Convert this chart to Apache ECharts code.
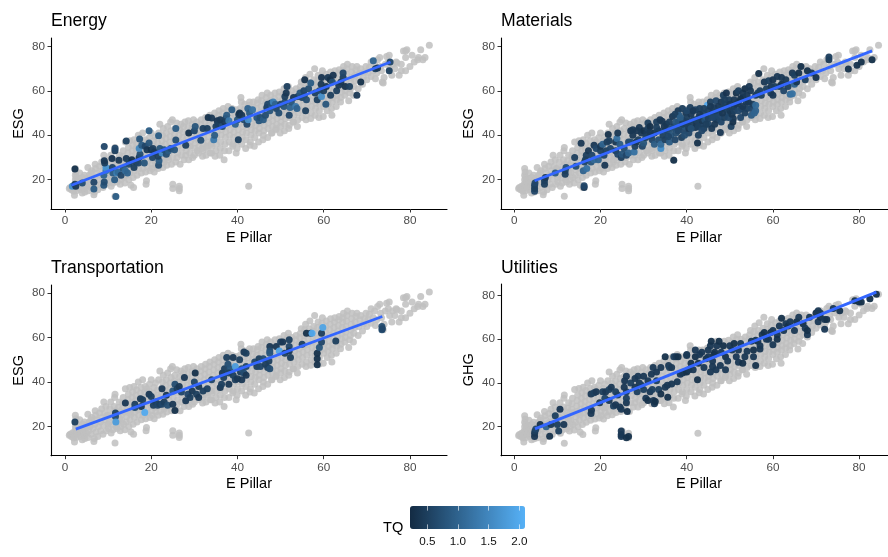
<!DOCTYPE html>
<html><head><meta charset="utf-8">
<style>html,body{margin:0;padding:0;background:#fff}#c{width:888px;height:557px}</style>
<script src="https://cdn.jsdelivr.net/npm/echarts@6/dist/echarts.min.js"></script></head>
<body><div id="c"></div>
<script>
const xTicks=[0,20,40,60,80], yTicks=[20,40,60,80], tqTicks=[0.5,1.0,1.5,2.0];
const tqRange=[0.218,2.093];
const panelTitles=['Energy','Materials','Transportation','Utilities'];
const yNames=['ESG','ESG','ESG','GHG'];
const fitEnergy=[[1.5,17.5],[75.5,73]], fitMaterials=[[4.7,19.5],[83,78]], fitTransport=[[2.5,18.8],[73.6,69.5]], fitUtilities=[[4.8,19],[84,81.5]];
const greyFlat=[
1,16,1.2,16.5,1.5,15.5,1.7,17,2,16,2,14.8,2.2,13,2.3,18,2.4,20,2.4,22,2.5,23.5,2.4,25,2.6,21,2.7,19,2.8,17.5,2.6,15,3,16.5,3.2,18.5,3.3,20.5,3.4,23,3.6,15.5,3.8,17,3.9,19,4,14,4.1,21,4.3,18,4.4,16,4.5,22,4.6,14.5,4.8,19.5,5,17,5.1,20.5,
5.3,25.5,5.4,15,5.5,18,5.6,22,5.8,20,6,23,6.1,16.5,6.2,24,6.5,19,6.7,13.2,6.8,14.5,6.9,21,7,27,7.1,25,7.2,17.5,7.4,23,7.6,15.5,7.8,20,8,26,8.2,22,8.3,18,8.5,28,8.6,24,8.8,16.5,8.9,20.5,9,31,9.2,26,9.3,23,9.5,29,9.6,18,9.8,25,10,21,
10.1,19,10.3,22,10.2,25,10.4,28,10.6,31,10.7,17,10.8,24,11.1,18.5,11.2,21,11.3,26,11.4,29,11.5,33,11.6,12.5,11.6,34.5,11.7,23,11.8,27,11.9,20,
12.1,19,12.2,22,12.3,25,12.4,28.5,12.6,31,12.7,23.5,12.8,18,12.9,26.5,13,20,13.1,23,13.2,25.5,13.3,28,13.4,30.5,13.5,33,13.6,21,13.8,26.5,13.9,18.5,
14,37,14.2,22,14.3,24.5,14.4,27,14.5,29.5,14.6,32,14.7,34.5,14.8,20,14.9,26,15,37.5,15.1,23,15.3,17.5,15.3,25.5,15.4,28,15.5,30.5,15.6,33,15.7,35.5,15.8,21,15.9,16.5,
16,38,16.1,24,16.2,26.5,16.3,29,16.4,31.5,16.5,34,16.6,36.5,16.7,22,16.9,27.5,17,40,17.1,25,17.2,27.5,17.3,30,17.4,32.5,17.5,35,17.6,37.5,17.7,23,17.9,28.5,
18,41,18.1,25,18.2,28,18.3,30.5,18.4,33,18.5,35.5,18.6,38,18.7,23.5,18.8,18,18.9,19.5,19,37,19.1,26,19.2,28.5,19.3,31,19.4,33.5,19.5,36,19.6,39,19.7,24,19.9,29.5,
20,41,20.1,27,20.2,25,20.3,30,20.4,32.5,20.5,35,20.6,37.5,20.7,23.5,20.8,28.5,21,39.5,21.1,26.5,21.2,29,21.3,31.5,21.4,34,21.5,36.5,21.6,25,21.7,41,21.8,33,22,45,
22.1,27,22.2,30,22.3,32.5,22.4,35,22.5,37.5,22.6,40,22.7,25.5,22.8,43,22.9,29,23,28,23.1,31,23.2,33.5,23.3,36,23.4,38.5,23.5,41,23.6,26.5,23.8,44,23.9,30,
24,29,24.1,32,24.2,34.5,24.3,37,24.4,39.5,24.5,46,24.6,42,24.7,27,24.9,47,25,30,25.1,33,25.2,35.5,25.3,38,25.4,40.5,25.5,43,25,16,25,18,25.7,28,25.9,45.5,
26,30,26.1,32,26.2,35,26.3,37.5,26.4,40,26.5,15,26.5,16,26.5,17,26.6,42.5,26.7,27,26.9,45,27,31,27.1,34,27.2,36.5,27.3,39,27.4,41.5,27.5,44,27.6,29,27.8,46,
28,31,28.1,33,28.2,36,28.3,38.5,28.4,41,28.5,43.5,28.6,46.5,28.7,29,28.9,35,29,32,29.1,35,29.2,37.5,29.3,40,29.4,42.5,29.5,45,29.6,30,29.8,47,
30,31,30.1,34,30.2,36.5,30.3,39,30.4,41.5,30.5,44,30.6,46,30.7,33,30.9,38,31,32,31.1,35,31.2,37.5,31.3,40,31.4,42.5,31.5,45,31.6,47,31.8,34,31.9,30.5,
32,33,32.1,36,32.2,38.5,32.3,41,32.4,43.5,32.5,46,32.6,48,32.7,31,32.9,35,33,34,33.1,37,33.2,39.5,33.3,42,33.4,44.5,33.5,47,33.6,49,33.7,32,33.9,36,
34,32,34.1,35,34.2,38,34.3,40.5,34.4,43,34.5,45.5,34.6,48,34.7,50,34.8,30.5,35,33,35.1,36,35.2,39,35.3,41.5,35.4,44,35.5,46.5,35.6,49,35.7,51,35.9,31,
36,34,36.1,37,36.2,40,36.3,42.5,36.4,45,36.5,47.5,36.6,50,36.7,52,36.9,29,37,33,37.1,36,37.2,39,37.3,41.5,37.4,44,37.5,46.5,37.6,49,37.7,51,37.8,53,
38,33,38.1,37,38.2,40,38.3,42.5,38.4,45,38.5,47.5,38.6,50,38.7,52,38.9,35,39,36,39.1,39,39.2,41.5,39.3,44,39.4,46.5,39.5,49,39.6,51.5,39.7,32,39.9,34,
40,37,40.1,40,40.2,42.5,40.3,45,40.4,47.5,40.5,50,40.6,52,40.8,57,40.9,55,41,36,41.1,39,41.2,41.5,41.3,44,41.4,46.5,41.5,49,41.6,51.5,41.7,54,41.9,34,
42,38,42.1,41,42.2,43.5,42.3,46,42.4,48.5,42.5,51,42.6,17,42.6,53.5,42.8,55,42.9,35.5,43,37,43.1,40,43.2,42.5,43.3,45,43.4,47.5,43.5,50,43.6,52.5,43.7,55,43.9,35,
44,39,44.1,42,44.2,44.5,44.3,47,44.4,49.5,44.5,52,44.6,54.5,44.8,56,44.9,37,45,41,45.1,43,45.2,45.5,45.3,48,45.4,50.5,45.5,53,45.6,55.5,45.7,58,45.9,38,
46,40,46.1,42,46.2,44.5,46.3,47,46.4,49.5,46.5,52,46.6,54.5,46.7,57,46.9,59,47,39,47.1,43,47.2,45.5,47.3,48,47.4,50.5,47.5,53,47.6,55.5,47.7,58,47.9,41,
48,41,48.1,44,48.2,46.5,48.3,49,48.4,51.5,48.5,54,48.6,56.5,48.7,59,48.9,42.5,49,43,49.1,45,49.2,47.5,49.3,50,49.4,52.5,49.5,55,49.6,57.5,49.7,59.5,49.9,41,
50,44,50.1,46,50.2,48.5,50.3,51,50.4,53.5,50.5,56,50.6,58.5,50.8,61,50.9,42,51,45,51.1,47.5,51.2,50,51.3,52.5,51.4,55,51.5,57.5,51.6,60,51.8,62,51.9,43,
52,44.5,52.1,48,52.2,50.5,52.3,53,52.4,55.5,52.5,58,52.6,60,52.9,46,53,46,53.1,49,53.2,51.5,53.3,54,53.4,56.5,53.5,59,53.6,61,53.9,44,
54,47,54.1,50,54.2,52.5,54.3,55,54.4,57.5,54.5,60,54.6,62,54.8,64,55,48,55.1,51,55.2,53.5,55.3,56,55.4,58.5,55.5,61,55.6,63.5,55.8,66,55.9,47,
56,49,56.1,52,56.2,54.5,56.3,57,56.4,59.5,56.5,62,56.6,64,56.8,67.5,57,47.5,57.1,50,57.2,53,57.3,55.5,57.4,58,57.5,60.5,57.6,63,57.7,65,57.9,70,
58,49,58.1,52,58.2,54.5,58.3,57,58.4,59.5,58.5,62,58.6,64.5,58.7,67,58.9,48,59,51,59.1,54,59.2,56.5,59.3,59,59.4,61.5,59.5,64,59.6,66.5,59.7,69,59.9,48.5,
60,53,60.1,55,60.2,57.5,60.3,60,60.4,62.5,60.5,65,60.6,67.5,60.8,51,61,54,61.1,56,61.2,58.5,61.3,61,61.4,63.5,61.5,66,61.6,68.5,61.8,52,61.9,49,
62,55,62.1,57,62.2,59.5,62.3,62,62.4,64.5,62.5,67,62.6,69,62.9,53,63,56,63.1,58,63.2,60.5,63.3,63,63.4,65.5,63.5,68,63.6,69.5,63.9,55,
64,57,64.1,59.5,64.2,62,64.3,64.5,64.4,67,64.5,69,64.6,71,64.9,58,65,60,65.1,62.5,65.2,65,65.3,67.5,65.4,70,65.5,72,65.8,55.5,66,59,
66.2,61,66.3,63.5,66.4,66,66.5,68.5,66.6,71,66.9,58,67,62,67.2,64.5,67.3,67,67.5,69.5,67.7,71,68,61,68.2,65,68.4,68,68.6,70,69,63,69.2,66,69.5,68.5,69.8,71,
70,65,70.3,68,70.6,70.5,71,66.5,71,73,71.5,69,71.8,72,72,65.5,72.3,68,72.5,74,73,75,73.2,71,73.4,69,73.6,64,73.8,63.5,74,66,74.3,72,74.6,75.5,75.2,76,75,73,75.3,70,75.8,67,
76,72,76.5,70,76.8,73,77,72.5,77.5,67,78,69,78,72,78.5,78,79,75,79,69,79,78,79.3,78.5,80.5,76,80,71,81,73,81.8,74,82,75,83,74,82.5,78.5,83.5,75,84.5,80.5
];
const energyFlat=[
1.7,17,1.6,2.3,24.8,.3,2.5,17,.4,2.3,18,.5,4,18.5,.7,6.7,18.8,.6,6.7,15.8,.9,9,17.5,.8,9.1,19,.7,9,22,1,9.5,24,1.3,9.5,25.5,1.7,9.2,27.5,.5,9.1,28.5,.4,9.1,34.9,.6,
11.1,23,.9,11,25.5,.6,10.9,29.5,.35,11.6,33,.5,11.6,34.1,.6,11.8,12.4,.9,11.5,20,.9,12,23,1.4,12.3,23.5,1.1,12.5,28.7,.4,13,22,.6,13.5,25,.8,14,24,1.1,14.2,29.5,.4,14.2,37.4,.5,
14.5,23,1,14.8,27,.7,15,28,.6,15.5,29,.3,16,25.5,.5,16.5,28,.5,17,27.5,.6,17.2,30,.4,17.4,31.5,.7,17.3,38.3,.8,17.2,34,1.5,17.8,35.5,.9,18.4,27.5,.8,18.6,35,.6,19,33.5,.4,19.5,36.5,.8,19.5,42,.9,
20,33.5,.3,20.4,34,.5,20.3,30,.6,20.8,32.5,.4,21.7,26.5,.7,21.8,28.5,.9,21.6,30.5,.5,21.7,39.8,.9,22,34,.8,22.5,32,1.5,23,33.5,.8,23.5,31.5,.7,24,33,.9,24.5,34,.7,25.4,33.5,.8,25.7,37.9,.7,25.7,43.1,.9,
28,35.5,.5,28.7,41,.3,30,42,.6,30.2,43.9,.8,31.5,37.8,.7,32,43,.5,33,43,.5,33.2,48,.3,34,47.8,.4,34.5,38,1.3,34.7,40,.9,35,44,.5,35.3,46.5,.35,35.5,45,.5,36,47,.4,36.5,44,.7,37,46,.4,37.3,47.5,.5,37.5,49,.9,
38,46.5,1.3,38.7,51.5,.9,39.5,45,1,40,47,.8,40.2,38,.5,40.3,49.3,.4,40.5,50,.3,41,49,.4,41.5,47,.7,42.2,45,.6,42.4,52,1,42.5,47,1.6,42.8,50,.9,43.5,51.5,1.2,44.5,48,.8,45,46.5,.8,45.3,48,.7,
46,47,.9,46.5,49,.7,46.8,52.5,.5,47,54,.6,47.5,51,.8,48,53.5,1,47.8,54.5,.7,48.3,55,1.4,48.8,54,1,49,52,.6,49.6,50,.7,50,54,.6,50.8,53,.8,51,55,.7,51,57.5,.5,51.3,59,.4,51.5,62,.5,
52,49,.6,52.2,52.5,1,52.5,55,.8,53,57,.4,53.5,53,1.3,53.8,52,1,54,57.5,.5,54.5,59,.8,55,57,.6,55.5,58,.7,55.6,65,.3,55.4,60,.6,55.8,51,.5,56,56,.7,56.5,61,.7,57,63.5,.9,
58,59,.5,58.5,56,.5,59,60,.6,59.5,66,.35,59.4,63,.4,59.5,57.5,1.6,60,60,.5,60.5,54,.8,60.6,62,.4,61,66,.4,61.5,65,.3,61.6,58,.5,62,64,.7,62.2,67,.35,63,60,.5,63.5,62.5,.4,64,64,.4,64.5,66,.5,64.5,68,.6,65,62,.3,
66,62,.5,67.7,58,.4,68.6,64,.3,71.5,73.5,1,72,70,.5,72.5,70.3,.4,75.2,69,.5,75.4,73,.6
];
const materialsFlat=[
4.7,14.8,.6,4.7,16,.5,4.7,17.5,.5,4.8,18.5,.6,7,18,.5,7,19.5,.5,7.2,21,.4,9.5,23,.9,11.8,22.5,.5,11.8,24,.5,12,25.5,.7,14,30,.5,14.3,26,.7,15.5,36.4,.4,16.2,16.5,.4,16.2,17.3,.6,16,24,1,
16.8,25,1.2,16.3,28,.6,16.5,29,.5,16.7,31,.5,17.2,33,.4,18,31,.6,17.8,28,.8,18.5,35.5,.4,18.5,29,1.1,19,34,.6,19.5,29,1,20,33,.5,20,35,.4,20.5,36,1,20.8,31,.6,21,26.5,.4,21.5,37,.5,21.3,33,.5,21.8,40.3,.3,
22,37.5,.5,22.3,34,.6,23.5,33,.5,23.5,37,.4,23.8,38.5,1.2,24,41,.4,24,31.5,.6,24.5,36,.9,24.8,30,.5,25,31.5,.8,25.5,34,.7,26,31,.6,26.5,37,.6,26.5,32,1,27,37,.7,27,42,.35,27.5,42.5,.4,27.8,32.5,1.2,
28,35,.5,28.3,37,.4,28.8,38,.5,29,43.5,.4,29.5,41,.4,29.7,35,.6,30,42,.3,30,36.5,.8,30.7,41,.4,31,45.5,.5,31,43,.5,31.5,44,.3,31.8,40,.5,32,38,.6,32.5,36,.9,32.5,41,.4,33,46,.5,33.5,38,.7,33.5,42,.4,
34,34,1.6,34,36,1.1,34.3,46.3,.4,34.5,40,.5,34.8,42,.7,35,38,.5,35.3,45,.4,35.5,42,.6,36,46,.5,36,37,.9,36.3,40,.8,36.7,48.5,.4,37,28.8,.3,37,44,.5,37.3,38,.6,37.5,41,.7,37.8,42.5,.9,
38,46,.5,38,51,.4,38.2,49,.9,38.5,44,.7,38.8,39,.5,39,47,.6,39,52,.5,39.3,42,.6,39.6,44,.8,39.8,50,.4,40,48,.5,40,46,.5,40.5,41,.6,40.5,43,.4,40.8,52.5,.5,41,49.5,.4,41.2,45,.5,41.5,47,.5,
42,43.5,.4,42,51.5,.6,42.3,45.5,.4,42.5,36.5,.3,42.7,40,.5,42.8,48,.6,43,52,.5,43.3,45,.6,43.5,46.5,.4,43.8,50,.5,44,43,.5,44.2,47,.7,44.5,48.5,.9,44.8,53.5,2,45,51,.5,45,45,.6,45.5,55,.5,
45.8,43,.4,46,50,.4,46.3,52.5,.5,46.5,48,.6,46.8,55.5,.6,47,47,.5,47.3,53,.4,47.5,50,.7,47.8,41.3,.4,48,46,.6,48,55,.4,48.2,52,.5,48.5,58,.5,48.7,48,.5,49,54,.5,49.2,59,.35,49.5,50,.6,49.8,56,.5,
50,51,.4,50.3,44,.5,50.7,46,.3,50.8,47.5,.4,51,53,.5,51,56,.4,51.5,59,.3,52,55,.4,52,60,.5,52.5,48,.6,52.7,52,.5,53,57,.4,53,59,.4,53.5,61,.3,53.8,55,.5,54,52,.5,54,58,.4,
54.5,62,.4,55,49,.9,55,52,.6,55.3,54,.5,55.7,50,1,56,51,1,56,53.5,1.1,56,58,.4,56.5,59,.5,56.7,67.8,.3,57,60,.5,57.3,58,.5,
58,64,.4,58.5,61,.5,59,64.5,.5,59.5,59,.5,59.6,62,.4,60,65,.35,60,58,.4,60.4,62,.5,61,66.5,.4,61.5,62,.5,62,63,.3,62,66,.4,62.5,60,.6,63,65,.4,63.5,62,.5,64,58.5,1.1,64.5,68,.4,64.5,58.7,1.2,65,63,1,65,67,.5,
65.5,64,.4,66,68,.3,66.5,71,.3,67.5,65,.5,68,69,.3,69,68,.4,70,66,.3,73,74,.4,73,75.3,.5,77.5,69.8,.3,79.5,71.5,.3,80.5,73,.3,83,74,.3,
27.5,40,.4,28.5,42,.4,30.5,39,.5,31.5,41.5,.4,33,43.5,.5,33.8,47,.4,34.8,44,.4,35.8,39.5,.6,36.5,43,.7,37.3,49.5,.5,37.5,46,.8,38,42,.6,38.5,48,.9,39,45,.5,39.5,40,.7,40,51,.6,40.3,44.5,.5,41,43,.7,41.5,51,.4,
42.2,47,.5,42.7,44,.5,43,49.5,.4,43.5,42,.6,44,52,.5,44.5,45,.5,45,47.5,.5,45.5,53,.4,46,48,.6,46.5,45,.4,46.8,51,.5,47.5,48.5,.6,47.8,52,.5,48.3,50,.4,48.8,56,.5,49.2,52.5,.5,49.7,48,.6,50,54,.4,50.5,49.5,.4,51,51,.5,51.5,54,.4,52,51,.6,52.5,56.5,.3,53,53,.4,53.5,50,.5,54.3,55,.4,54.8,60,.4
];
const transportFlat=[
2.3,22,.5,11.7,26,.5,11.7,24.5,.7,11.8,22,1.8,14,30.5,.4,16.2,30,.5,16.2,28.5,.7,17.5,32.5,.4,17.7,29,.4,18.5,26.3,2,18,32,.5,19.5,34.5,.4,20,33.5,.5,
20.5,29.5,.5,21,31,.5,21.5,29.5,.6,22,30,.5,22.5,37,.4,22.5,30,.6,23,31,.5,23.5,34,.4,23.8,29.5,.7,25,30,.4,25.5,27.2,.3,25,36,.8,25.5,39,.7,26,37,.5,26.5,38,.4,27,35.5,.6,27.7,42,.4,
28,31.5,.4,28.5,34.5,.6,29,33,.5,29.5,36,.4,30,40,.6,30.2,44,.3,30.5,34.5,.5,31,33,.4,31,38,.4,32,36,.5,33,37,.5,34,41,.6,36,37.5,.4,36.3,39,.5,36.5,44,.4,36.8,42,.5,
37,46,.5,37.5,51,.5,37.8,48,.7,38,39,.4,38.3,46,.8,38,44,.5,39,51,.4,39,43,.5,39.5,41,.5,39.5,47,1.8,40,41.5,.4,40.5,50,.5,40.7,44.5,.5,41,41,.4,41,46,.8,41.5,44,.7,42,43,.4,42,47,.6,
41.5,53.5,.4,42,53,.5,44,49,.6,44.5,47,.5,45,50.5,.5,45.3,47,.6,46,50.5,.7,46.5,48,.5,47,46.5,.5,47.3,49.5,.5,47.5,46,.7,
47.5,56,.4,47.5,54,.7,47.5,53,.8,49,56,.4,49.7,54,1.9,50,58,.5,50.5,58,.4,51,53,.5,52,59,.5,52,56,.6,52,54,.4,52.3,51,.5,55,57,.5,
56,62,.3,57,62,.4,57.3,62,2,58.5,47.8,.3,58.5,50.5,.3,58.5,53,.3,59,55.5,.8,59.5,58,.6,59.5,62,.5,59.8,64.5,1.9,62.8,58.5,.5,73.5,63.5,.7,73.5,65,.7,73.6,64,.6
];
const utilitiesFlat=[
4.7,15.5,.4,4.7,17,.4,4.8,18,.5,5,19,.6,6,21,.3,7.4,20,1,8.2,15.7,.3,8.5,21,.4,9.5,25,.5,10,21,.5,10.3,18,.5,10.6,28,.35,11.5,21,.4,17.8,26,.4,17.9,27.5,.4,17.8,35,.4,18.5,35.5,.5,
19,36,.4,19.8,31,.4,20.5,36,.5,21,33,.6,21.2,36,.4,22,32,.4,22,37,.5,22.5,38,.4,23,29.5,.5,23.5,36,.5,23.5,30,.4,24,34.5,.5,24.5,29,.4,24.8,28,.4,
24.8,15.5,.4,24.8,16.5,.4,24.8,18,.4,26,15,.3,26.5,15.5,.3,26.2,27,.3,26,31,.4,26,33,.5,26,36,.5,25.5,38,.4,25.6,41,.4,26,43,.4,27,40,.5,
28,38,.4,28,42,.4,28.5,36,.5,28.7,43,.4,29,40,.4,29.5,39,.5,30,37,.5,30,43,.4,30.5,33,.4,31,32,.3,31,41,.4,31.5,36,.4,31.8,44,.4,32,37,.5,32.2,47,.4,
32.3,32,.4,32.5,30.5,.4,32.7,31.5,.3,33,41,.5,33,45,.4,33.5,37,.5,34,35,.3,34,47,.4,35,38,.4,35,52,.3,35.5,39,.4,35.6,33.5,.3,35.8,48,.4,36,47,.5,36.5,39.5,.4,
36.5,47,.4,37,52,.5,37.5,52,.4,37.8,40.5,.4,38,52,.3,38.5,44,.4,39,44.5,.4,39.5,45,.4,40,45,.3,40,52.5,.4,40,53,.4,40.5,46,.4,41,49,.3,41.5,46,.4,
42,52,.3,42,55,.4,42.5,41.5,.3,42.7,49,.3,43,53,.4,43.5,54,.4,44,47,.4,44.5,51,.3,45,55,.4,45,52,.4,45.5,45,.4,45.5,57,.4,45.7,59,.3,46,47.5,.4,46,50,.4,
46.3,53,.3,46.5,54,.3,46.8,46,.4,47,57,.4,47.5,59,.3,47.8,48,.4,48,54,.4,48.5,57,.3,49,52,.3,49,46,.4,49.5,50,.4,50,57,.4,50.5,55,.4,51,58,.3,51.5,52,.4,
52,55,.4,52,49.5,.4,52.5,58,.4,53,49,.3,53.5,52,.4,54,54.5,.4,55,59,.4,55.5,55,.3,55.5,52,.4,56,59.5,.4,56,48,.3,56.5,59,.4,57,55.5,.4,57,57,.4,
57.5,62,.4,58,63,.3,58.5,60,.4,59,60,.4,59.5,63,.3,60,64,.4,60,57.5,.4,61,62,.4,61,60,.3,61.5,66,.4,62,69.5,.3,62.5,64,.4,63,67,.4,63.5,66,.3,64,68,.4,
65,64,.4,65.5,68,.3,66,70,.4,67,67,.3,67.5,65,.4,68,62,.4,68,64,.3,68.5,70,.4,70,72,.3,70.5,73,.4,70.5,68,.4,71,72,.4,71,70,.3,72,64.5,.4,72,69,.4,72.5,69,.3,
74,74,.4,75.5,73,.3,79,77.5,.3,80,77,.3,80.5,77,.3,82.5,78.5,.3,84,80.5,.3
];
function triples(a){const r=[];for(let i=0;i<a.length;i+=3)r.push([a[i],a[i+1],a[i+2]]);return r;}
function pairs(a){const r=[];for(let i=0;i<a.length;i+=2)r.push([a[i],a[i+1]]);return r;}
const grey=pairs(greyFlat);
const coloured=[triples(energyFlat),triples(materialsFlat),triples(transportFlat),triples(utilitiesFlat)];
const fits=[fitEnergy,fitMaterials,fitTransport,fitUtilities];

const font='"Liberation Sans",Arial,sans-serif';
const layout=[
 {l:51,t:38,w:396,h:171,xMin:-3.25,xMax:88.6,yMin:6.8,yMax:83.8,ty:12,pad:0},
 {l:501,t:38,w:387,h:171,xMin:-3.09,xMax:86.7,yMin:6.8,yMax:83.8,ty:12,pad:9},
 {l:51,t:285,w:396,h:170.7,xMin:-3.25,xMax:88.6,yMin:6.8,yMax:83.7,ty:259,pad:0},
 {l:501,t:284,w:387,h:171.7,xMin:-3.09,xMax:86.7,yMin:6.76,yMax:85.2,ty:259,pad:9}
];
const grids=[],xAxes=[],yAxes=[],series=[],titles=[],colourIdx=[];
layout.forEach((p,i)=>{
 grids.push({left:p.l,top:p.t,width:p.w,height:p.h});
 xAxes.push({type:'value',gridIndex:i,min:p.xMin,max:p.xMax,name:'E Pillar',nameLocation:'middle',nameGap:21,
  nameTextStyle:{fontFamily:font,fontSize:14.5,color:'#000',padding:[0,0,0,p.pad]},splitLine:{show:false},
  axisLine:{onZero:false,lineStyle:{color:'#000',width:1.1}},
  axisTick:{customValues:xTicks,length:3.5,lineStyle:{color:'#333',width:1}},
  axisLabel:{customValues:xTicks,margin:6,fontFamily:font,fontSize:11.7,color:'#4D4D4D'}});
 yAxes.push({type:'value',gridIndex:i,min:p.yMin,max:p.yMax,name:yNames[i],nameLocation:'middle',nameGap:25,
  nameTextStyle:{fontFamily:font,fontSize:14.5,color:'#000'},splitLine:{show:false},
  axisLine:{onZero:false,lineStyle:{color:'#000',width:1.1}},
  axisTick:{customValues:yTicks,length:3.5,lineStyle:{color:'#333',width:1}},
  axisLabel:{customValues:yTicks,margin:6,fontFamily:font,fontSize:11.7,color:'#4D4D4D'}});
 series.push({type:'scatter',name:'All',xAxisIndex:i,yAxisIndex:i,data:grey,symbolSize:7,silent:true,z:1,
  itemStyle:{color:'#C0C0C0',opacity:0.85}});
 colourIdx.push(series.length);
 series.push({type:'scatter',name:panelTitles[i],xAxisIndex:i,yAxisIndex:i,data:coloured[i],symbolSize:7,silent:true,z:2,
  itemStyle:{opacity:0.95}});
 series.push({type:'line',xAxisIndex:i,yAxisIndex:i,data:fits[i],showSymbol:false,silent:true,z:3,
  lineStyle:{color:'#3366FF',width:2.8}});
 titles.push({text:panelTitles[i],left:p.l,top:p.ty,padding:0,textStyle:{fontFamily:font,fontSize:17.6,fontWeight:'normal',color:'#000'}});
});
titles.push({text:'TQ',left:383,top:520,padding:0,textStyle:{fontFamily:font,fontSize:14.6,fontWeight:'normal',color:'#000'}});
grids.push({left:410,top:506,width:115,height:23});
const tqAxis=(pos,lab)=>({type:'value',gridIndex:4,position:pos,min:tqRange[0],max:tqRange[1],z:10,splitLine:{show:false},
 axisLine:{show:false,onZero:false},
 axisTick:{customValues:tqTicks,inside:true,length:4.6,lineStyle:{color:'rgba(255,255,255,0.6)',width:1}},
 axisLabel:{show:lab,customValues:tqTicks,margin:7,fontFamily:font,fontSize:11.7,color:'#111',
  formatter:v=>v.toFixed(1)}});
xAxes.push(tqAxis('bottom',true));
xAxes.push(tqAxis('top',false));
yAxes.push({type:'value',gridIndex:4,show:false,min:0,max:1});
const chart=echarts.init(document.getElementById('c'),null,{renderer:'canvas'});
chart.setOption({
 animation:false,backgroundColor:'#fff',title:titles,grid:grids,xAxis:xAxes,yAxis:yAxes,series:series,
 visualMap:{type:'continuous',min:tqRange[0],max:tqRange[1],dimension:2,seriesIndex:colourIdx,orient:'horizontal',
  left:410,top:506,itemWidth:23,itemHeight:115,padding:0,calculable:false,realtime:false,hoverLink:false,text:null,
  inRange:{color:['#132B43','#56B1F7']},textStyle:{color:'transparent'}}
});
</script></body></html>
